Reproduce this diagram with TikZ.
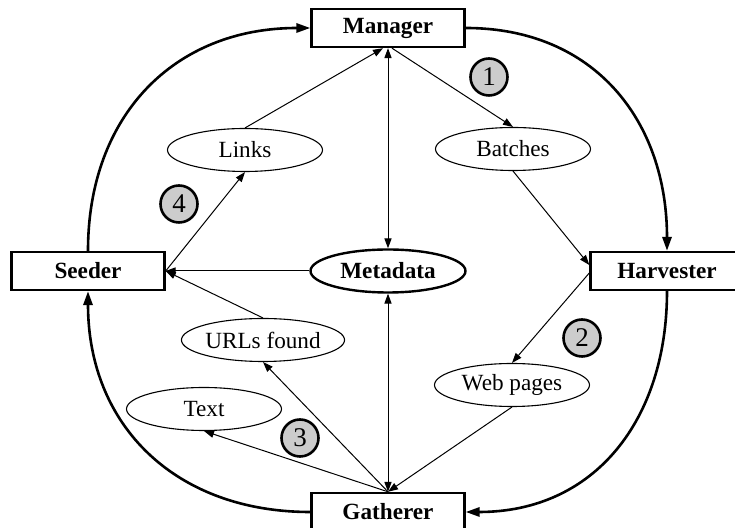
\documentclass[tikz,border=0pt]{standalone}
\usepackage{fontspec}
\setmainfont{Liberation Serif}
\usepackage{xcolor}
\usetikzlibrary{arrows.meta, shapes.geometric}

\definecolor{stepgray}{HTML}{CCCCCC}

\tikzset{
    agent/.style={draw, line width=1.2pt, rectangle, minimum width=76.5pt, minimum height=19pt, inner sep=0pt, font=\fontsize{11.6}{14}\selectfont\bfseries},
    data/.style={draw, line width=0.55pt, ellipse, minimum width=77.5pt, minimum height=21.5pt, inner sep=0pt, font=\fontsize{11.6}{14}\selectfont},
    stepnum/.style={draw, line width=1.3pt, circle, fill=stepgray, minimum size=18.5pt, inner sep=0pt, font=\fontsize{13.5}{15}\selectfont},
    flow/.style={line width=0.5pt, -{Triangle[length=5pt, width=3.6pt]}},
    flowboth/.style={line width=0.5pt, {Triangle[length=5pt, width=3.6pt]}-{Triangle[length=5pt, width=3.6pt]}},
    cycle/.style={line width=1.3pt, -{Triangle[length=7pt, width=4.6pt]}}
}

\begin{document}
\begin{tikzpicture}[x=0.5pt, y=0.5pt]
    \useasboundingbox (0,0) rectangle (735,-528);

    % Draw the agents
    \node[agent] (man) at (388,-28) {Manager};
    \node[agent] (seed) at (88,-271) {Seeder};
    \node[agent] (harv) at (667,-271) {Harvester};
    \node[agent] (gath) at (388,-512) {Gatherer};

    % Draw the data
    \node[data] (links) at (245,-150) {Links};
    \node[data] (bat) at (513,-149) {Batches};
    \node[data, line width=1.2pt] (meta) at (388,-271) {\bfseries Metadata};
    \node[data] (urls) at (263,-340) {URLs found};
    \node[data] (web) at (512,-385) {Web pages};
    \node[data] (text) at (204,-409) {Text};

    % Step numbers
    \node[stepnum] (s1) at (489,-77) {1};
    \node[stepnum] (s2) at (582,-338) {2};
    \node[stepnum] (s3) at (300,-438) {3};
    \node[stepnum] (s4) at (179,-204) {4};

    % Outer cycle
    \draw[cycle] (seed.north) to[out=90, in=180, looseness=1.1] (man.west);
    \draw[cycle] (man.east) to[out=0, in=90, looseness=1.1] (harv.north);
    \draw[cycle] (harv.south) to[out=-90, in=0, looseness=1.1] (gath.east);
    \draw[cycle] (gath.west) to[out=180, in=-90, looseness=1.1] (seed.south);

    % Inner flows
    \draw[flow] ([xshift=2pt]man.south) -- (bat.north);
    \draw[flow] (bat.south) -- ([yshift=3pt]harv.west);
    \draw[flow] ([yshift=-1pt]harv.west) -- (web.north);
    \draw[flow] (web.south) -- (gath.north);
    \draw[flow] (gath.north) -- (urls.south);
    \draw[flow] (gath.north) -- (text.south);
    \draw[flow] (urls.north) -- (seed.east);
    \draw[flow] (meta.west) -- (seed.east);
    \draw[flow] (seed.east) -- (links.south);
    \draw[flow] (links.north) -- ([xshift=-2.5pt]man.south);
    \draw[flowboth] (man.south) -- (meta.north);
    \draw[flowboth] (meta.south) -- (gath.north);
\end{tikzpicture}
\end{document}
